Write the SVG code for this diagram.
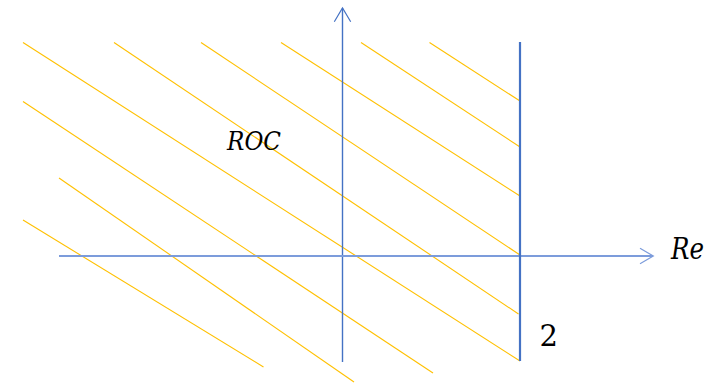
<svg xmlns="http://www.w3.org/2000/svg" width="721" height="383" viewBox="0 0 721 383">
<style>
.hatch{stroke:#FFC000;stroke-width:1.1;fill:none}
.axis{stroke:#4472C4;fill:none}
.lbl{font-family:"DejaVu Serif","Liberation Serif",serif;fill:#000}
</style>
<rect width="721" height="383" fill="#fff"/>
<g id="hatching">
<line class="hatch" x1="23" y1="42.5" x2="520" y2="361"/>
<line class="hatch" x1="114" y1="42.5" x2="518.5" y2="314"/>
<line class="hatch" x1="201" y1="42.5" x2="520" y2="255"/>
<line class="hatch" x1="281" y1="42.5" x2="520" y2="196"/>
<line class="hatch" x1="361" y1="42.5" x2="520" y2="147"/>
<line class="hatch" x1="429.5" y1="42.5" x2="520" y2="101"/>
<line class="hatch" x1="23" y1="101.5" x2="433" y2="373"/>
<line class="hatch" x1="59" y1="178" x2="354" y2="382"/>
<line class="hatch" x1="23" y1="220" x2="263.5" y2="367"/>
</g>
<g id="connectors">
<line class="axis" x1="342.5" y1="362" x2="342.5" y2="8" stroke-width="1.4"/>
<polyline class="axis" points="334.3,21.7 342.5,8 350.7,21.7" stroke-width="1.2"/>
<line x1="59" y1="256" x2="653" y2="256" stroke="#7C9CDB" stroke-width="1.8"/>
<polyline points="640,248.3 653.3,256 640,263.7" fill="none" stroke="#7C9CDB" stroke-width="1.2"/>
<line class="axis" x1="520" y1="42" x2="520" y2="361" stroke-width="2.2"/>
</g>
<g id="labels">
<text class="lbl" x="227" y="150" font-size="26" font-style="italic" textLength="54" lengthAdjust="spacingAndGlyphs">ROC</text>
<text class="lbl" x="671" y="259.3" font-size="29" font-style="italic" textLength="33" lengthAdjust="spacingAndGlyphs">Re</text>
<text class="lbl" x="539.5" y="345.5" font-size="29">2</text>
</g>
</svg>
